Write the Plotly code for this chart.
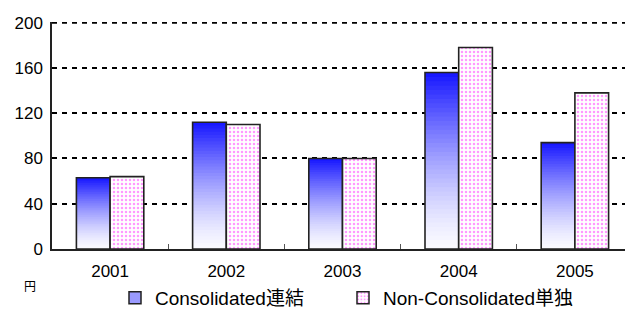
import plotly.graph_objects as go
import numpy as np

years = ["2001", "2002", "2003", "2004", "2005"]
consolidated = [63, 112, 80, 156, 94]
non_consolidated = [64, 110, 80, 178, 138]
y_ticks = [0, 40, 80, 120, 160, 200]

# page body has an 8px default margin; figure is sized to fit the window
W, H = 625, 303
OFF = 8
L, T, B = 52 - OFF, 22 - OFF, H - (249 - OFF)
PW, PH = W - L, H - T - B

N = 40
fig = go.Figure()

cons = np.array(consolidated, dtype=float)
for i in range(N):
    t = (i + 0.5) / N
    f = t ** 1.4
    r = int(round(250 - (250 - 20) * f))
    g = int(round(250 - (250 - 20) * f))
    fig.add_trace(go.Bar(
        x=years, y=cons / N * (1.6 if i < N - 1 else 1.0), base=cons * i / N,
        offsetgroup="a", marker=dict(color=f"rgb({r},{g},255)", line=dict(width=0)),
        showlegend=False, hoverinfo="skip",
    ))
fig.add_trace(go.Bar(
    x=years, y=consolidated, offsetgroup="a",
    marker=dict(color="rgba(0,0,0,0)", line=dict(color="#222222", width=1.6)),
    showlegend=False,
))
fig.add_trace(go.Bar(
    x=years, y=non_consolidated, offsetgroup="b",
    marker=dict(color="white", line=dict(color="#222222", width=1.6),
                pattern=dict(shape=".", fgcolor="#ff33ff", bgcolor="white", size=4, solidity=0.3)),
    showlegend=False,
))
fig.add_trace(go.Bar(
    x=[None], y=[None], name="Consolidated連結", offsetgroup="a", legend="legend",
    marker=dict(color="#9a9aff", line=dict(color="#222222", width=1.5)),
))
fig.add_trace(go.Bar(
    x=[None], y=[None], name="Non-Consolidated単独", offsetgroup="b", legend="legend2",
    marker=dict(color="white", line=dict(color="#222222", width=1.5),
                pattern=dict(shape=".", fgcolor="#ff33ff", bgcolor="white", size=4, solidity=0.3)),
))

leg_common = dict(orientation="h", y=-(298 - 249) / PH, yanchor="middle",
                  font=dict(size=19), itemwidth=30, bgcolor="rgba(0,0,0,0)", xanchor="left")

fig.update_layout(
    width=W, height=H,
    margin=dict(l=L, r=0, t=T, b=B, autoexpand=False),
    paper_bgcolor="white", plot_bgcolor="white",
    barmode="group", bargap=0.42, bargroupgap=0,
    font=dict(family="Liberation Sans, Arial, Noto Sans CJK JP", size=17, color="black"),
    xaxis=dict(type="category", showline=True, linecolor="#222222", linewidth=1.5,
               ticks="inside", tickson="boundaries", ticklen=5, tickcolor="#555555",
               tickfont=dict(size=17), showgrid=False, ticklabelstandoff=6),
    yaxis=dict(range=[0, 200.6], tickvals=y_ticks, showline=True, linecolor="#222222", linewidth=1.5,
               showgrid=True, gridcolor="black", gridwidth=2, griddash="5px,5px",
               ticks="", tickfont=dict(size=17), zeroline=False, ticklabelstandoff=4),
    legend=dict(x=(115 - 52) / PW, **leg_common),
    legend2=dict(x=(343 - 52) / PW, **leg_common),
    showlegend=True,
    shapes=[dict(type="line", xref="paper", x0=0, x1=1, yref="y", y0=max(y_ticks), y1=max(y_ticks),
                 line=dict(color="black", width=2, dash="5px,5px"), layer="below")],
    annotations=[dict(text="円", x=(30 - 52) / PW, y=-(287 - 249) / PH, xref="paper", yref="paper",
                      showarrow=False, xanchor="center", yanchor="middle", font=dict(size=12))],
)

fig.write_html("out.html")
